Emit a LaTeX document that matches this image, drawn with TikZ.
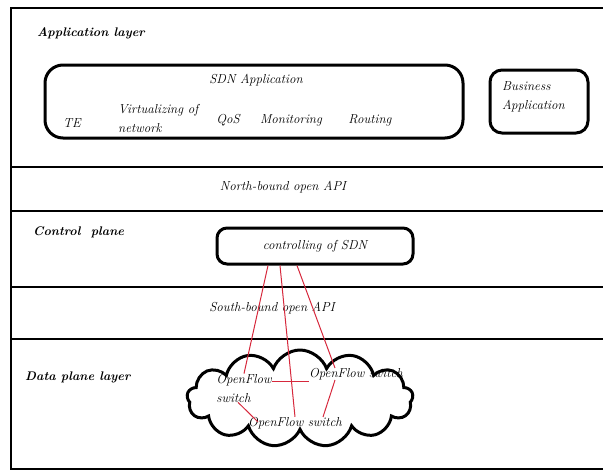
\documentclass[tikz,border=0pt]{standalone}
\usetikzlibrary{shapes.symbols}

\begin{document}
\begin{tikzpicture}[x=1pt,y=-1pt]

% ------------------------------------------------ sdn colors
\definecolor{sdn_red}{RGB}{214,40,60}   %#D6283C

\tikzset{
  layerline/.style={line width=2.8pt},
  boxline/.style={draw,line width=3pt},
  lbl/.style={font=\fontsize{13}{19}\selectfont\itshape,inner sep=0pt},
  head/.style={font=\fontsize{12.5}{13}\selectfont\bfseries\itshape,inner sep=0pt,anchor=west},
  redlink/.style={color=sdn_red,line width=1pt}
}

\useasboundingbox (0,0) rectangle (603,472);

% layers
\draw [layerline] (612,8) -- (11,8) -- (11,469) -- (612,469);
\draw [layerline] (11,167) -- (612,167);
\draw [layerline] (11,211) -- (612,211);
\draw [layerline] (11,287) -- (612,287);
\draw [layerline] (11,339) -- (612,339);

\node[head] (applayer)  at (37,33)  {Application layer};
\node[head] (ctrlplane) at (33,232) {Control\ \ plane};
\node[head] (dataplane) at (25,377) {Data plane layer};

% application layer
\node[boxline,rounded corners=18pt,minimum width=418pt,minimum height=73pt] (sdnapp) at (254,101.5) {};
\node[lbl] (sdntitle) at (256,80)  {SDN Application};
\node[lbl] (te)       at (72,123)  {TE};
\node[lbl,align=left,anchor=west] (virt) at (118,118) {Virtualizing of\\network};
\node[lbl] (qos)      at (228,120) {QoS};
\node[lbl] (monit)    at (291,120) {Monitoring};
\node[lbl] (routing)  at (370,120) {Routing};

\node[boxline,rounded corners=12pt,minimum width=98pt,minimum height=63pt] (busapp) at (539,101.5) {};
\node[lbl,align=left,anchor=west] (bustext) at (502,97) {Business\\Application};

\node[lbl] (northapi) at (283,187) {North-bound open API};

% control plane
\node[boxline,lbl,rounded corners=10pt,minimum width=196pt,minimum height=36pt] (ctrl) at (315,246) {controlling of SDN};
\node[lbl] (southapi) at (272,308) {South-bound open API};

% data plane
\node[cloud,draw,line width=3pt,cloud puffs=13,cloud puff arc=140,aspect=2.3,minimum width=226pt,minimum height=97pt] (cloudnet) at (300,398.5) {};
\node[lbl,align=left] (swL) at (244,388) {OpenFlow\\switch};
\node[lbl] (swR) at (356,374) {OpenFlow switch};
\node[lbl] (swB) at (295,423) {OpenFlow switch};

\draw [redlink] ([xshift=-47pt]ctrl.south) -- (swL.north);
\draw [redlink] ([xshift=-35pt]ctrl.south) -- (swB.north);
\draw [redlink] ([xshift=-18pt]ctrl.south) -- ([xshift=-21pt]swR.north);
\draw [redlink] ([xshift=-21pt]swR.south) -- ([xshift=28pt]swB.north);
\draw [redlink] ([yshift=7pt]swL.east) -- ([yshift=7pt]swL.east -| swR.west);
\draw [redlink] ([xshift=-6pt]swL.south) -- ([xshift=-37pt,yshift=-5pt]swB.north);

\end{tikzpicture}
\end{document}
